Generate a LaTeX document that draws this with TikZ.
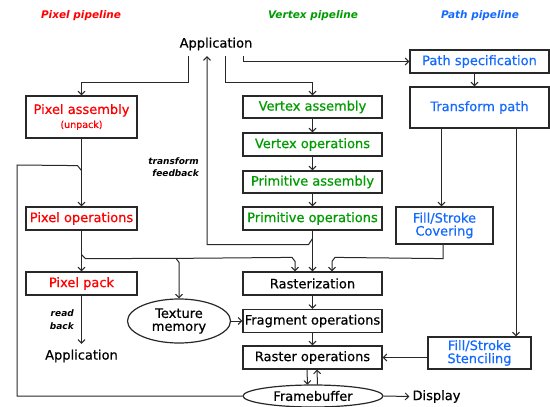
\documentclass[tikz,border=0pt]{standalone}
\usepackage{fontspec}
\setmainfont{DejaVu Sans}
\newfontfamily\boxfont[FakeBold=0.6]{DejaVu Sans}
\usetikzlibrary{shapes.geometric,arrows.meta,calc}
\definecolor{pxred}{RGB}{255,0,0}
\definecolor{vxgreen}{RGB}{0,155,0}
\definecolor{ptblue}{RGB}{20,105,255}
\definecolor{ln}{RGB}{40,40,40}
\begin{document}
\begin{tikzpicture}[x=1pt,y=-1pt,
  boxst/.style={draw=ln,line width=1.2pt,inner sep=0pt,align=center,font=\boxfont\fontsize{13}{15}\selectfont},
  ellst/.style={ellipse,draw=ln,line width=1.2pt,inner sep=0pt,align=center,font=\boxfont\fontsize{13}{15}\selectfont},
  plain/.style={inner sep=0pt,align=center,font=\boxfont\fontsize{13}{15}\selectfont},
  ttl/.style={inner sep=0pt,font=\fontsize{10.5}{12}\selectfont\bfseries\itshape},
  note/.style={inner sep=0pt,align=right,font=\fontsize{9}{12.5}\selectfont\bfseries\itshape},
  wire/.style={draw=ln,line width=1pt},
  arr/.style={wire,-{Straight Barb[length=3.5pt,width=7pt]}}]
\useasboundingbox (0,0) rectangle (550,407);

% titles
\node[ttl,text=pxred] (t1) at (81,16) {Pixel pipeline};
\node[ttl,text=vxgreen] (t2) at (313,16) {Vertex pipeline};
\node[ttl,text=ptblue] (t3) at (480,16) {Path pipeline};

% application
\node[plain,minimum height=24pt] (app) at (216,44) {Application};

% pixel pipeline
\node[boxst,text=pxred,minimum width=111pt,minimum height=42pt] (pa) at (81.5,117)
  {Pixel assembly\\[-1pt]{\fontsize{9.5}{11}\selectfont (unpack)}};
\node[boxst,text=pxred,minimum width=111pt,minimum height=23pt] (po) at (81.5,218.5) {Pixel operations};
\node[boxst,text=pxred,minimum width=111pt,minimum height=23pt] (pp) at (81.5,283.5) {Pixel pack};
\node[plain,minimum height=24pt] (app2) at (81.5,356) {Application};
\node[note,anchor=east] (rb) at (74,319.5) {read\\back};

% vertex pipeline
\node[boxst,text=vxgreen,minimum width=139pt,minimum height=22pt] (va) at (312.5,107) {Vertex assembly};
\node[boxst,text=vxgreen,minimum width=139pt,minimum height=23pt] (vo) at (312.5,144.5) {Vertex operations};
\node[boxst,text=vxgreen,minimum width=139pt,minimum height=22pt] (pra) at (312.5,182) {Primitive assembly};
\node[boxst,text=vxgreen,minimum width=139pt,minimum height=23pt] (pro) at (312.5,218.5) {Primitive operations};
\node[note,anchor=east] (tf) at (199,167) {transform\\feedback};

% common
\node[boxst,minimum width=139pt,minimum height=23pt] (ras) at (312.5,283.5) {Rasterization};
\node[boxst,minimum width=139pt,minimum height=23pt] (fo) at (312.5,321) {Fragment operations};
\node[boxst,minimum width=139pt,minimum height=23pt] (ro) at (312.5,357.5) {Raster operations};
\node[ellst,minimum width=103pt,minimum height=44pt] (tex) at (179,321) {Texture\\[-2pt]memory};
\node[ellst,minimum width=140pt,minimum height=22pt] (fb) at (313,396) {Framebuffer};
\node[plain,minimum height=16pt] (disp) at (435,396.5) {\hspace{3pt}Display};

% path pipeline
\node[boxst,text=ptblue,minimum width=139pt,minimum height=23pt] (ps) at (479.5,61.5) {Path specification};
\node[boxst,text=ptblue,minimum width=139pt,minimum height=41pt] (tp) at (479.5,107.5) {Transform path};
\node[boxst,text=ptblue,minimum width=97pt,minimum height=37pt] (fsc) at (444.5,225.5) {Fill/Stroke\\[-2pt]Covering};
\node[boxst,text=ptblue,minimum width=103pt,minimum height=32pt] (fss) at (479.5,353) {Fill/Stroke\\[-2pt]Stenciling};

% connectors from application
\draw[arr] ($(app.south)+(-28,0)$) -- ++(0,26) -| (pa.north);
\draw[arr] ($(pro.south)+(0,8)$) -- ++(-4,6) -| ($(app.south)+(-9,0)$);
\draw[arr] ($(app.south)+(9,0)$) -- ++(0,26) -| (va.north);
\draw[arr] ($(app.south)+(27,0)$) |- (ps.west);

% pixel pipeline connectors
\draw[arr] (pa.south) -- (po.north);
\coordinate (fbk) at (17,165);
\draw[wire] (fb.west) -| (fbk) -- ($(pa.south)+(-4,27)$) -- ($(pa.south)+(0,32)$);
\draw[arr] (po.south) -- (pp.north);
\draw[arr] (pp.south) -- (app2.north);
\draw[arr] ($(po.south)+(0,24)$) -- ++(4,4) -- ($(tex.north)+(-3,-40)$) -- ++(3,4) -- (tex.north);
\draw[arr] ($(tex.north)+(-3,-40)$) -- ($(ras.north)+(-20.5,-14)$) -- ++(3,4) -- ($(ras.north)+(-17.5,0)$);

% vertex pipeline connectors
\draw[arr] (va.south) -- (vo.north);
\draw[arr] (vo.south) -- (pra.north);
\draw[arr] (pra.south) -- (pro.north);
\draw[arr] (pro.south) -- (ras.north);

% path pipeline connectors
\draw[arr] ($(ps.south)+(-5,0)$) coordinate (c0) -- (c0 |- tp.north);
\draw[arr] ($(tp.south)+(-38,0)$) coordinate (c1) -- (c1 |- fsc.north);
\draw[arr] ($(tp.south)+(36.5,0)$) coordinate (c2) -- (c2 |- fss.north);
\draw[arr] ($(fsc.south)+(-1.5,0)$) -- ++(0,14) -- ($(ras.north)+(22.5,-14)$) -- ++(-3,4) -- ($(ras.north)+(19.5,0)$);
\draw[arr] (fss.west |- ro.east) -- (ro.east);

% lower connectors
\draw[arr] (ras.south) -- (fo.north);
\draw[arr] (fo.south) -- (ro.north);
\draw[arr] (tex.east) -- (fo.west);
\draw[arr] ($(ro.south)+(-5.5,0)$) coordinate (r1) -- ($(fb.north)+(-5.5,0.3)$);
\draw[arr] ($(fb.north)+(4.5,0.3)$) -- ($(ro.south)+(4.5,0)$);
\draw[arr] (fb.east) -- (disp.west);
\end{tikzpicture}
\end{document}
